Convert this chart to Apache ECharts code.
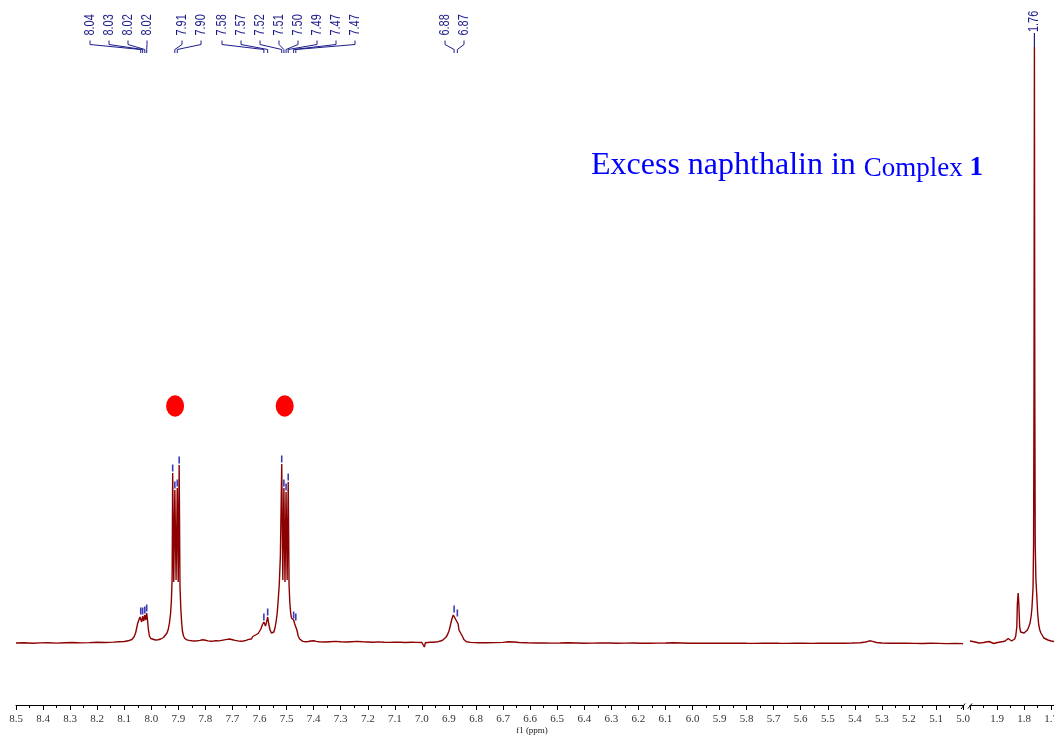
<!DOCTYPE html>
<html>
<head>
<meta charset="utf-8">
<title>1H NMR spectrum</title>
<script src="https://cdn.jsdelivr.net/npm/echarts@6/dist/echarts.min.js"></script>
<style>
  html, body { margin: 0; padding: 0; background: #ffffff; }
  #main { width: 1054px; height: 738px; }
</style>
</head>
<body>
<div id="main"></div>
<script>
// ---- spectrum, aromatic window (ppm, intensity) ----
const specLeft = [
  [8.500,1.0],[8.470,1.2],[8.440,0.8],[8.410,1.1],[8.380,1.3],[8.350,0.9],[8.320,1.2],[8.290,1.5],
  [8.260,1.1],[8.230,1.4],[8.200,1.8],[8.170,1.5],[8.140,1.9],[8.120,2.2],[8.100,2.5],[8.085,3.2],
  [8.072,4.5],[8.064,7],[8.058,11],[8.054,16],[8.050,21],[8.046,24],[8.042,27],[8.039,28],
  [8.0355,22],[8.032,28],[8.028,23],[8.024,29],[8.0205,24],[8.017,31],[8.014,24],[8.011,15],
  [8.007,8],[8.002,5.5],[7.995,4.5],[7.985,4],[7.975,4.3],[7.965,5],[7.955,6.5],[7.948,8.5],
  [7.942,11],[7.937,15],[7.933,21],[7.929,30],[7.926,42],[7.923,65],[7.921,171],[7.917,62],
  [7.913,154],[7.9085,64],[7.904,156],[7.9005,62],[7.897,179],[7.894,58],[7.891,36],[7.888,22],
  [7.885,13],[7.881,8],[7.876,5.5],[7.868,4.2],[7.860,3.6],[7.850,3.2],[7.840,3],[7.830,3.2],
  [7.820,3.6],[7.810,4.2],[7.800,3.8],[7.790,3.1],[7.780,2.8],[7.770,3],[7.760,3.3],[7.750,3.1],
  [7.740,3.6],[7.730,4.1],[7.720,4.6],[7.710,5],[7.700,4.3],[7.690,3.6],[7.680,3.1],[7.670,2.7],
  [7.660,3],[7.650,3.6],[7.640,4.6],[7.635,6],[7.630,5],[7.625,7.5],[7.620,6.5],[7.615,9],
  [7.610,8],[7.605,10.5],[7.600,12],[7.595,15],[7.590,19],[7.584,22],[7.578,18],[7.574,22],
  [7.570,27],[7.566,20],[7.561,14],[7.556,11],[7.551,10],[7.547,12],[7.543,16],[7.539,22],
  [7.535,30],[7.531,44],[7.527,60],[7.523,88],[7.518,180],[7.514,64],[7.510,156],[7.506,62],
  [7.502,152],[7.498,64],[7.494,162],[7.491,60],[7.488,41],[7.485,31],[7.482,26],[7.478,24],
  [7.474,24],[7.470,20],[7.466,22],[7.462,14],[7.457,8],[7.452,5],[7.446,3.5],[7.440,2.6],
  [7.430,2.2],[7.420,2.5],[7.410,3],[7.400,3.2],[7.390,2.6],[7.380,2.2],[7.360,2],[7.340,2.3],
  [7.320,2.6],[7.300,2.2],[7.280,2],[7.260,2.3],[7.240,2.6],[7.220,2.2],[7.200,2],[7.180,1.8],
  [7.160,2.1],[7.140,1.8],[7.120,1.6],[7.100,1.9],[7.080,1.7],[7.060,1.5],[7.040,1.8],[7.020,1.6],
  [7.000,1.5],[6.995,1.4],[6.991,-3],[6.987,1.3],[6.980,1.5],[6.970,1.8],[6.960,1.7],[6.950,2],
  [6.940,2.3],[6.933,2.6],[6.925,3.5],[6.918,5],[6.912,6.5],[6.906,9],[6.900,13],[6.896,17],
  [6.892,22],[6.888,26],[6.884,29],[6.881,30],[6.877,27],[6.874,24],[6.871,25],[6.869,26],
  [6.866,20],[6.863,14],[6.860,12],[6.857,11],[6.853,10],[6.849,7],[6.845,4.5],[6.840,3],
  [6.835,2.2],[6.820,1.6],[6.790,1.3],[6.760,1.2],[6.730,1.4],[6.700,1.6],[6.680,2.2],[6.660,2.0],
  [6.640,1.5],[6.610,1.2],[6.580,1.0],[6.550,1.1],[6.520,0.9],[6.490,1.0],[6.460,1.2],[6.430,1.0],
  [6.400,0.8],[6.370,0.9],[6.340,1.1],[6.310,1.0],[6.280,0.8],[6.250,0.9],[6.220,1.0],[6.190,0.8],
  [6.160,0.7],[6.130,0.9],[6.100,1.0],[6.070,1.2],[6.040,1.0],[6.010,0.8],[5.980,0.7],[5.950,0.9],
  [5.920,0.8],[5.890,0.7],[5.860,0.8],[5.830,0.9],[5.800,0.7],[5.770,0.6],[5.740,0.8],[5.710,0.9],
  [5.680,0.7],[5.650,0.6],[5.620,0.8],[5.590,0.7],[5.560,0.6],[5.530,0.8],[5.500,0.9],[5.470,0.7],
  [5.440,0.8],[5.410,1.0],[5.380,1.3],[5.360,2.0],[5.345,3.2],[5.335,2.6],[5.320,1.5],[5.300,1.0],
  [5.270,0.8],[5.240,0.7],[5.210,0.8],[5.180,0.6],[5.150,0.5],[5.120,0.7],[5.090,0.6],[5.060,0.4],
  [5.030,0.5],[5.000,0.4]
];

// ---- spectrum, aliphatic window (ppm, intensity) ----
const specRight = [
  [2.000,3],[1.995,4],[1.990,2.5],[1.982,2],[1.975,1.5],[1.966,1],[1.958,1.2],[1.950,1.5],
  [1.940,2],[1.930,2.5],[1.926,3.5],[1.921,1.5],[1.912,0.5],[1.905,0.8],[1.898,1.5],[1.888,2],
  [1.878,2.5],[1.870,3],[1.864,4],[1.859,5.5],[1.856,7],[1.853,4],[1.846,3],[1.840,3.5],
  [1.835,5],[1.831,8],[1.827,17],[1.825,40],[1.822,51],[1.8195,40],[1.8165,17],[1.813,12],
  [1.808,11],[1.800,11],[1.794,12],[1.788,14],[1.783,17],[1.778,21],
  [1.774,28],[1.771,36],[1.767,57],[1.765,100],[1.7635,250],[1.762,597],[1.7605,250],[1.759,100],
  [1.7565,65],[1.7535,50],[1.750,31],[1.746,19],[1.742,14],[1.738,11],[1.733,9],[1.727,6],
  [1.720,4.5],[1.712,4],[1.700,3],[1.690,2.5],[1.680,2.2]
];

// picked peak positions (ppm)
const pickPpm = [8.039, 8.032, 8.024, 8.017, 7.921, 7.913, 7.904, 7.897,
                 7.584, 7.570, 7.518, 7.510, 7.502, 7.494, 7.474, 7.466, 6.881, 6.869];

// labelled peaks, grouped as they are bracketed above the spectrum
const labelGroups = [
  [8.039, 8.032, 8.024, 8.017],
  [7.913, 7.904],
  [7.584, 7.570, 7.518, 7.510, 7.502, 7.494, 7.474, 7.466],
  [6.881, 6.869]
];
const labelGroupsRight = [[1.762]];

// naphthalene signals marked with a red dot
const markerPpm = [7.912, 7.507];
const markerLevel = [238, 238];

// ---- layout ----
const PX_PER_PPM = 270.6;
const LABEL_X0 = [90, 182, 222, 445];
const LABEL_PITCH = 19;
const LABEL_COLOR = '#1c1c8c';
const PICK_COLOR = '#3c3cb4';
const SPEC_COLOR = '#8b0000';

function heightAt(spec, ppm) {
  const p = spec.find(d => Math.abs(d[0] - ppm) < 1e-9);
  return p ? p[1] : 0;
}

const chart = echarts.init(document.getElementById('main'), null, { renderer: 'canvas' });

function axisX(gridIndex, min, max, showMax) {
  return {
    gridIndex, type: 'value', min, max, interval: 0.1, inverse: true,
    axisLine: { onZero: false, lineStyle: { color: '#000', width: 1 } },
    axisTick: { show: true, length: 5, lineStyle: { color: '#000', width: 1 } },
    minorTick: { show: true, splitNumber: 2, length: 3, lineStyle: { color: '#000', width: 1 } },
    axisLabel: {
      margin: 9, fontSize: 11, fontFamily: 'Liberation Serif', color: '#333',
      showMaxLabel: showMax, formatter: v => v.toFixed(1)
    },
    splitLine: { show: false }, minorSplitLine: { show: false }
  };
}

function axisY(gridIndex) {
  return { gridIndex, type: 'value', min: -61, max: 614, show: false, splitLine: { show: false } };
}

function labelSeries(groups, spec, xi, straight) {
  const data = [];
  groups.forEach((g, gi) => g.forEach((ppm, i) => data.push([ppm, heightAt(spec, ppm), gi, i])));
  return {
    type: 'custom', xAxisIndex: xi, yAxisIndex: xi, silent: true, z: 5,
    encode: { x: 0, y: 1 },
    data,
    renderItem(params, api) {
      const ppm = api.value(0), h = api.value(1), gi = api.value(2), i = api.value(3);
      const top = api.coord([ppm, h]);
      const px = top[0];
      const textStyle = { text: ppm.toFixed(2), fontSize: 14, fontFamily: 'Liberation Sans',
                          fill: LABEL_COLOR, align: 'left', verticalAlign: 'middle' };
      if (straight) {
        return { type: 'group', children: [
          { type: 'text', x: px, y: 32, rotation: Math.PI / 2, scaleX: 0.78, style: textStyle },
          { type: 'line', shape: { x1: px, y1: 33, x2: px, y2: top[1] },
            style: { stroke: LABEL_COLOR, lineWidth: 1.2 } }
        ]};
      }
      const lx = LABEL_X0[gi] + i * LABEL_PITCH;
      return { type: 'group', children: [
        { type: 'text', x: lx, y: 35.5, rotation: Math.PI / 2, scaleX: 0.78, style: textStyle },
        { type: 'polyline', shape: { points: [[lx, 40.5], [lx, 44.5], [px, 49.5], [px, 53]] },
          style: { stroke: LABEL_COLOR, lineWidth: 1, fill: null } }
      ]};
    }
  };
}

function pickSeries(ppms, spec, xi) {
  return {
    type: 'custom', xAxisIndex: xi, yAxisIndex: xi, silent: true, z: 4,
    encode: { x: 0, y: 1 },
    data: ppms.map(p => [p, heightAt(spec, p)]),
    renderItem(params, api) {
      const pt = api.coord([api.value(0), api.value(1)]);
      return { type: 'line', shape: { x1: pt[0], y1: pt[1] - 1.5, x2: pt[0], y2: pt[1] - 8.5 },
               style: { stroke: PICK_COLOR, lineWidth: 1.6 } };
    }
  };
}

const option = {
  animation: false,
  backgroundColor: '#ffffff',
  grid: [
    { left: 16, top: 30, width: 3.5 * PX_PER_PPM, height: 675, outerBoundsMode: 'none', containLabel: false },
    { left: 970, top: 30, width: 0.4 * PX_PER_PPM, height: 675, outerBoundsMode: 'none', containLabel: false }
  ],
  xAxis: [ axisX(0, 5.0, 8.5, true), axisX(1, 1.6, 2.0, false) ],
  yAxis: [ axisY(0), axisY(1) ],
  series: [
    { type: 'line', xAxisIndex: 0, yAxisIndex: 0, data: specLeft, showSymbol: false, symbol: 'none',
      lineStyle: { color: SPEC_COLOR, width: 1.4 }, silent: true, z: 2 },
    { type: 'line', xAxisIndex: 1, yAxisIndex: 1, data: specRight, showSymbol: false, symbol: 'none',
      lineStyle: { color: SPEC_COLOR, width: 1.4 }, silent: true, z: 2 },
    pickSeries(pickPpm, specLeft, 0),
    labelSeries(labelGroups, specLeft, 0, false),
    labelSeries(labelGroupsRight, specRight, 1, true),
    { type: 'scatter', xAxisIndex: 0, yAxisIndex: 0, symbol: 'circle', symbolSize: [18, 21.5],
      itemStyle: { color: '#ff0000', opacity: 1 }, silent: true, z: 3,
      data: markerPpm.map((p, i) => [p, markerLevel[i]]) }
  ]
};
chart.setOption(option);

// axis break marks and free text
const xb1 = chart.convertToPixel({ xAxisIndex: 0 }, 5.0);
const xb2 = chart.convertToPixel({ xAxisIndex: 1 }, 2.0);
chart.setOption({
  graphic: [
    { type: 'line', shape: { x1: xb1 - 2, y1: 709, x2: xb1 + 2, y2: 703.5 },
      style: { stroke: '#000', lineWidth: 1 } },
    { type: 'line', shape: { x1: xb2 - 2, y1: 708.5, x2: xb2 + 2, y2: 703.5 },
      style: { stroke: '#000', lineWidth: 1 } },
    { type: 'text', x: 532, y: 731,
      style: { text: 'f1 (ppm)', fontSize: 9, fontFamily: 'Liberation Serif', fill: '#222',
               align: 'center', verticalAlign: 'middle' } },
    { type: 'text', x: 591, y: 182,
      style: {
        text: '{a|Excess naphthalin in }{b|Complex }{c|1}',
        align: 'left', verticalAlign: 'bottom',
        rich: {
          a: { fontSize: 32, fontFamily: 'Liberation Serif', fill: '#0000ff', verticalAlign: 'bottom', lineHeight: 32 },
          b: { fontSize: 27, fontFamily: 'Liberation Serif', fill: '#0000ff', verticalAlign: 'bottom', lineHeight: 32 },
          c: { fontSize: 27, fontFamily: 'Liberation Serif', fontWeight: 'bold', fill: '#0000ff', verticalAlign: 'bottom', lineHeight: 32 }
        }
      } }
  ]
});
</script>
</body>
</html>
